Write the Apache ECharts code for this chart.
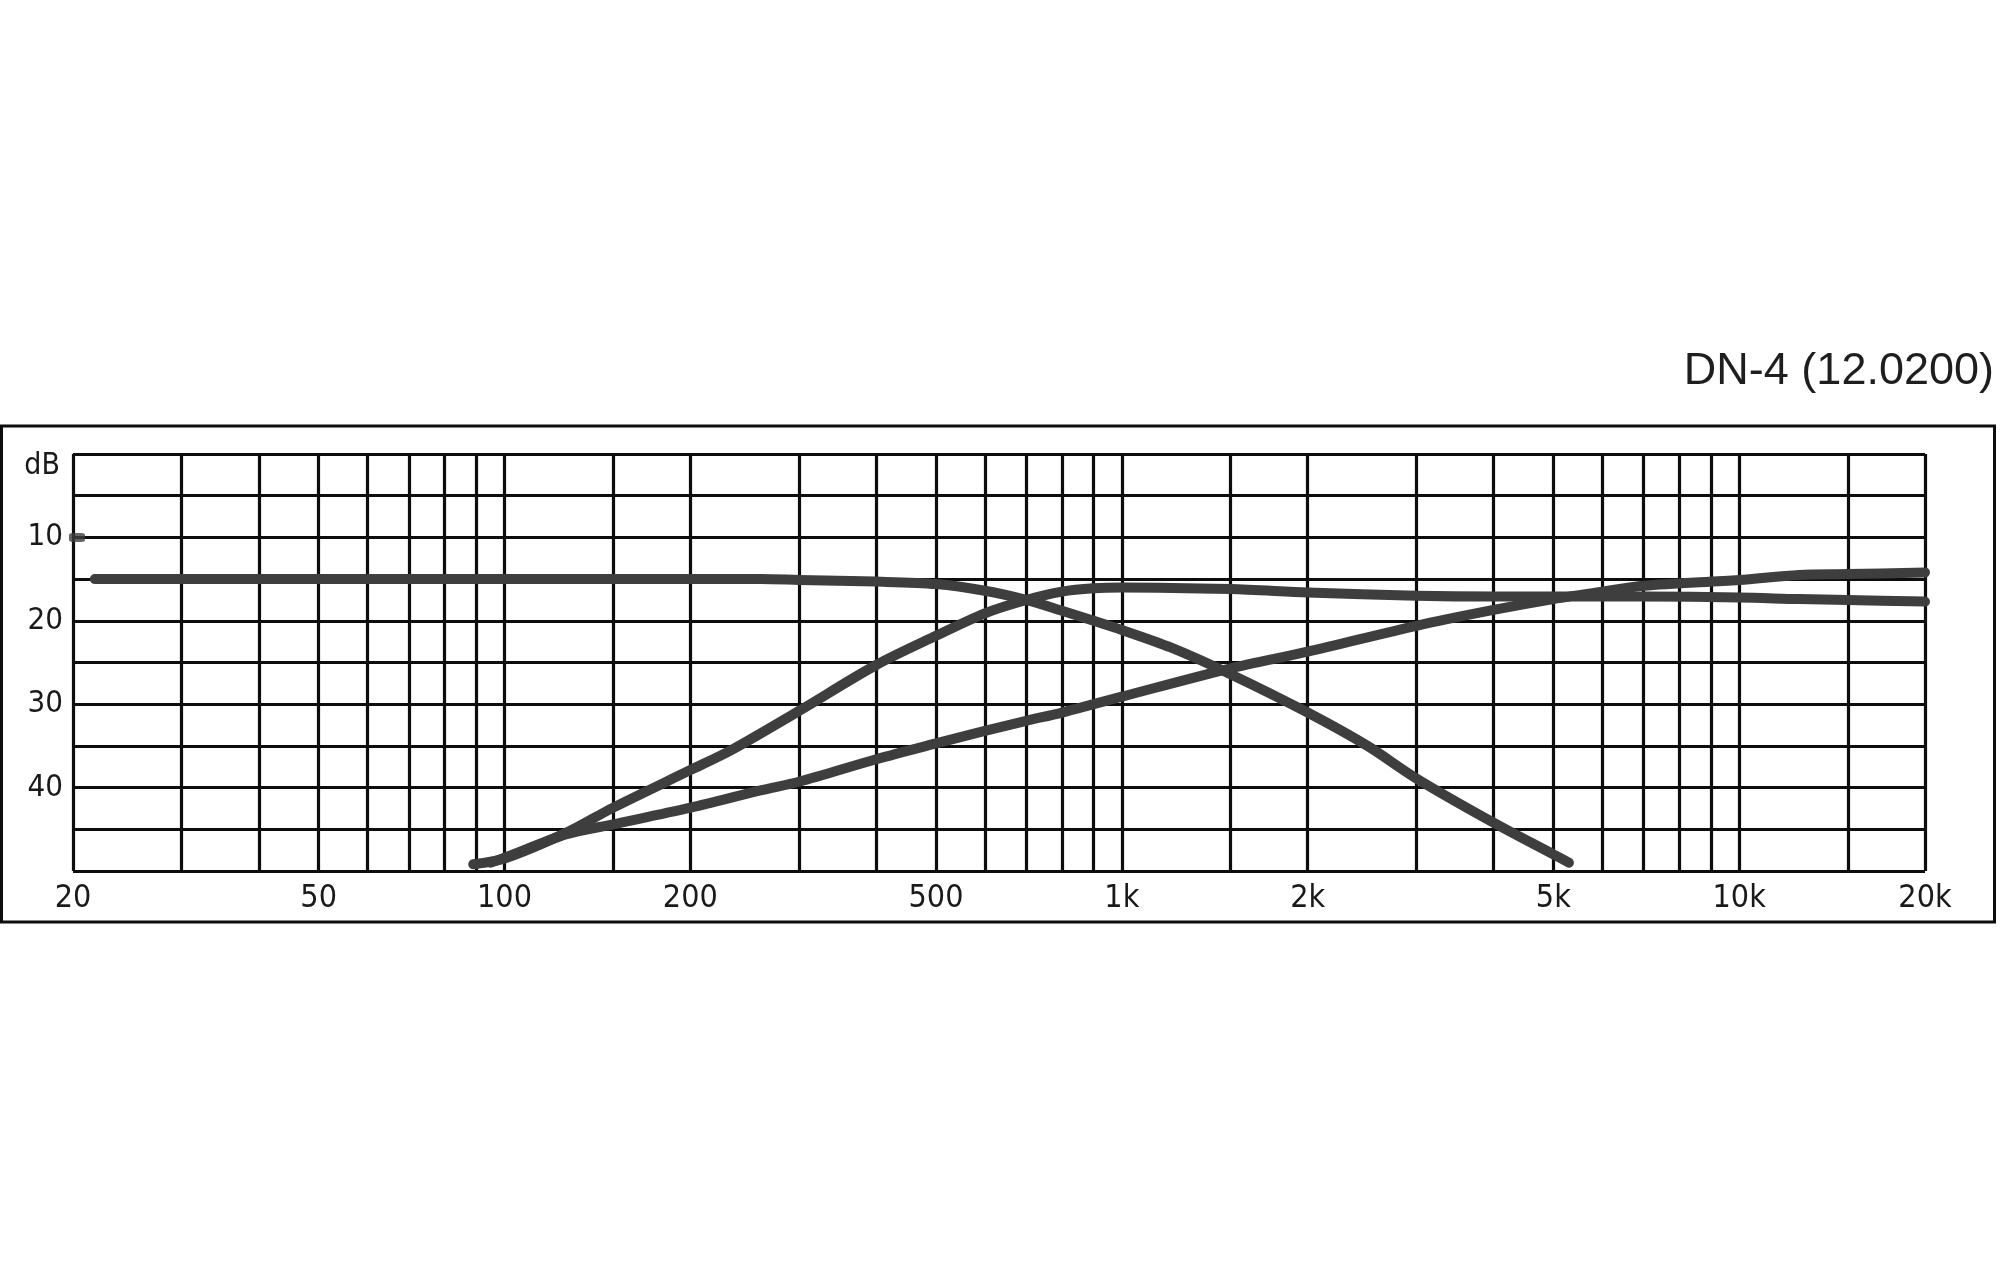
<!DOCTYPE html>
<html>
<head>
<meta charset="utf-8">
<script src="https://cdn.jsdelivr.net/npm/echarts@6/dist/echarts.min.js"></script>
<style>
html,body{margin:0;padding:0;background:#fff;}
#chart{width:2000px;height:1280px;}
</style>
</head>
<body>
<div id="chart"></div>
<script>
// Grid line frequencies (Hz) and labelled frequencies
var gridFreqs = [20,30,40,50,60,70,80,90,100,150,200,300,400,500,600,700,800,900,
  1000,1500,2000,3000,4000,5000,6000,7000,8000,9000,10000,15000,20000];
var labelFreqs = [20,50,100,200,500,1000,2000,5000,10000,20000];
var dbTicks = [0,10,20,30,40];

// Curve A: low-pass output (dB attenuation)
var lowFreq = [21.7,30,50,100,200,260,300,400,500,600,700,800,900,1000,1200,1500,2000,2500,3000,4000,5000,5300];
var lowDb   = [15.0,15.0,15.0,15.0,15.0,15.0,15.1,15.3,15.6,16.4,17.5,18.8,20.0,21.1,23.2,26.4,31.0,35.0,38.9,44.2,48.0,49.0];

// Curve B: mid output
var midFreq = [89,100,126,150,200,233,300,400,500,600,700,800,900,1000,1500,2000,3000,4000,5000,7000,10000,12500,15000,20000];
var midDb   = [49.2,48.5,45.4,42.4,37.9,35.5,30.8,25.3,21.8,19.1,17.5,16.5,16.1,16.0,16.2,16.6,17.0,17.1,17.1,17.1,17.2,17.4,17.5,17.7];

// Curve C: high output
var highFreq = [95,100,126,150,200,261,300,400,500,600,700,800,900,1000,1500,2000,3000,4000,5000,6000,7000,10000,12500,15000,20000];
var highDb   = [49.0,48.4,45.6,44.4,42.4,40.3,39.3,36.6,34.7,33.2,32.0,31.0,30.0,29.1,25.7,23.7,20.6,18.7,17.4,16.5,15.8,15.1,14.5,14.4,14.2];

// stray point near the 10 dB label
var strayFreq = [20.3];
var strayDb = [10];

var L = function(f){ return Math.log10(f); };
function pairs(fs, ds){ return fs.map(function(f,i){ return [L(f), ds[i]]; }); }

var curveColor = '#3e3e3e';
var gridColor = '#0d0d0d';
var labelFont = "'DejaVu Sans Condensed', 'DejaVu Sans', sans-serif";
var xMin = L(20), xMax = L(20000);

var chart = echarts.init(document.getElementById('chart'), null, {renderer:'canvas'});
var lineSeries = function(name, fs, ds){
  return {
    name: name, type: 'line', data: pairs(fs, ds),
    showSymbol: false, smooth: 0.3, clip: false, z: 5,
    lineStyle: { color: curveColor, width: 10, cap: 'round', join: 'round' },
    itemStyle: { color: curveColor }
  };
};

chart.setOption({
  animation: false,
  backgroundColor: '#ffffff',
  grid: { left: 73, right: 75, top: 454, bottom: 409, containLabel: false },
  xAxis: {
    type: 'value', min: xMin, max: xMax,
    axisLine: { show: false },
    axisTick: { show: false, customValues: gridFreqs.map(L) },
    splitLine: { show: true, showMinLine: true, showMaxLine: true, lineStyle: { color: gridColor, width: 3.2 } },
    axisLabel: {
      customValues: labelFreqs.map(L),
      margin: 12,
      color: '#1a1a1a',
      fontSize: 32,
      fontFamily: labelFont,
      formatter: function(v){
        var f = Math.round(Math.pow(10, v));
        return f >= 1000 ? (f/1000) + 'k' : String(f);
      }
    }
  },
  yAxis: {
    type: 'value', min: 0, max: 50, interval: 5, inverse: true,
    axisLine: { show: false },
    axisTick: { show: false },
    splitLine: { show: true, showMinLine: true, showMaxLine: true, lineStyle: { color: gridColor, width: 3.2 } },
    axisLabel: {
      margin: 10,
      color: '#1a1a1a',
      fontSize: 31,
      fontFamily: labelFont,
      formatter: function(v){
        if (v === 0) return '{d|dB}';
        return dbTicks.indexOf(v) >= 0 ? String(v) : '';
      },
      rich: {
        d: { fontSize: 30, padding: [24,3,0,0], color: '#1a1a1a', fontFamily: labelFont }
      }
    }
  },
  graphic: [
    { type: 'rect', z: -1, shape: { x: 1.5, y: 426, width: 1993, height: 496 },
      style: { fill: null, stroke: gridColor, lineWidth: 3 } },
    { type: 'text', x: 1994, y: 372,
      style: { text: 'DN-4 (12.0200)', fill: '#1e1e1e', align: 'right', verticalAlign: 'middle',
               font: "45px 'Liberation Sans', Arial, sans-serif" } }
  ],
  series: [
    lineSeries('Low', lowFreq, lowDb),
    lineSeries('Mid', midFreq, midDb),
    lineSeries('High', highFreq, highDb),
    { name: 'dot', type: 'scatter', data: pairs(strayFreq, strayDb), clip: false, z: 5,
      symbol: 'roundRect', symbolSize: [16, 9], itemStyle: { color: curveColor } }
  ]
});
</script>
</body>
</html>
